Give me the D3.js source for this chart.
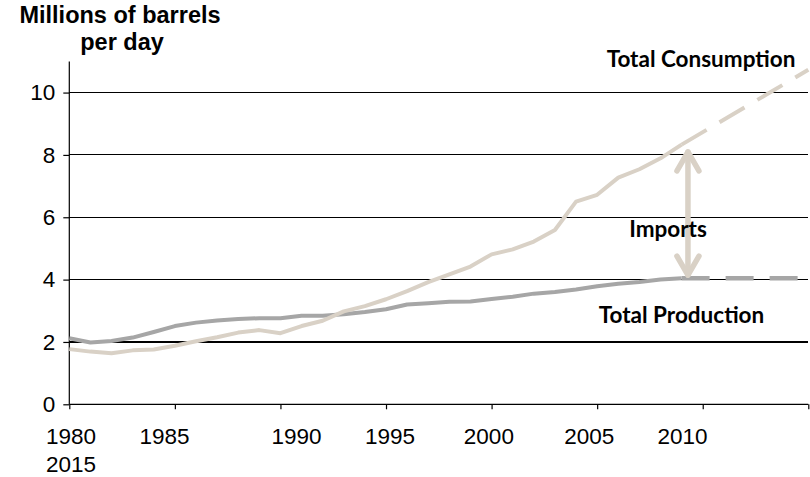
<!DOCTYPE html>
<html>
<head>
<meta charset="utf-8">
<script src="https://cdn.jsdelivr.net/npm/d3@7"></script>
<style>
  html, body { margin: 0; padding: 0; background: #fff; }
  svg { display: block; }
</style>
</head>
<body>
<svg id="chart" width="810" height="477"></svg>
<script>
// Historical series, one value per year (millions of barrels per day)
const years = [1980, 1981, 1982, 1983, 1984, 1985, 1986, 1987, 1988, 1989,
               1990, 1991, 1992, 1993, 1994, 1995, 1996, 1997, 1998, 1999,
               2000, 2001, 2002, 2003, 2004, 2005, 2006, 2007, 2008, 2009];
const consumption = [1.77, 1.69, 1.64, 1.73, 1.76, 1.88, 2.02, 2.15, 2.30, 2.38,
                     2.28, 2.51, 2.68, 2.98, 3.15, 3.37, 3.63, 3.92, 4.17, 4.42,
                     4.81, 4.97, 5.22, 5.59, 6.50, 6.72, 7.27, 7.54, 7.89, 8.33];
const production  = [2.12, 1.98, 2.03, 2.14, 2.32, 2.51, 2.62, 2.69, 2.74, 2.76,
                     2.76, 2.84, 2.84, 2.89, 2.96, 3.05, 3.20, 3.24, 3.29, 3.30,
                     3.38, 3.45, 3.55, 3.60, 3.68, 3.79, 3.87, 3.92, 4.00, 4.04];

// Projected segments (dashed)
const projectionYears = [2009, 2015];
const consumptionProjection = [8.33, 10.73];
const productionProjection  = [4.04, 4.04];

// Import gap arrow: year and the two values it spans
const importsArrowYear = 2009.3;
const importsArrowRange = [4.08, 8.16];

// Axis ticks
const yTicks = [0, 2, 4, 6, 8, 10];
const xTicks = [1980, 1985, 1990, 1995, 2000, 2005, 2010, 2015];
const xTickLabels = ["1980", "1985", "1990", "1995", "2000", "2005", "2010", "2015"];

// ---- layout ----
const svg = d3.select("#chart");
const x = d3.scaleLinear().domain([1980, 2015]).range([69.3, 808.3]);
const y = d3.scaleLinear().domain([0, 11]).range([404.3, 61.4]);

const consColor = "#d9d1c6";
const prodColor = "#a6a6a6";
const axisFont = "'Liberation Sans', Arial, sans-serif";
const noteFont = "Lato, 'Open Sans', sans-serif";

// Horizontal gridlines
svg.append("g")
  .selectAll("line")
  .data(yTicks.filter(d => d > 0))
  .join("line")
  .attr("x1", x(1980)).attr("x2", x(2015))
  .attr("y1", d => y(d)).attr("y2", d => y(d))
  .attr("stroke", "#000").attr("stroke-width", 1.1)
  .attr("shape-rendering", "crispEdges");

// Y axis
const yAxis = svg.append("g")
  .attr("transform", `translate(${x(1980)},0)`)
  .call(d3.axisLeft(y).tickValues(yTicks).tickSize(6).tickPadding(8).tickFormat(d3.format("d")));
yAxis.select(".domain").attr("d", `M0,${y(11)}V${y(0)}`).attr("stroke", "#000").attr("stroke-width", 1.2);
yAxis.selectAll(".tick line").attr("stroke", "#000").attr("stroke-width", 1.2);
yAxis.selectAll(".tick text")
  .attr("font-family", axisFont).attr("font-size", 22.5).attr("fill", "#000");

// X axis
const xAxis = svg.append("g")
  .attr("transform", `translate(0,${y(0)})`)
  .call(d3.axisBottom(x).tickValues(xTicks).tickSize(5).tickFormat(""));
xAxis.select(".domain").attr("d", `M${x(1980)},0H${x(2015)}`).attr("stroke", "#000").attr("stroke-width", 1.2);
xAxis.selectAll(".tick line").attr("stroke", "#000").attr("stroke-width", 1.2);

// Year labels set as a wrapped text row: the last one wraps under the first
const labelShift = [1.7, -10.3, 16, 4, -2.7, -8, -20.3];
const labelRow = svg.append("g")
  .attr("font-family", axisFont).attr("font-size", 22.5).attr("fill", "#000")
  .attr("text-anchor", "middle");
labelRow.selectAll("text")
  .data(xTickLabels.slice(0, -1))
  .join("text")
  .attr("x", (d, i) => x(xTicks[i]) + labelShift[i])
  .attr("y", 444)
  .text(d => d);
labelRow.append("text")
  .attr("x", x(xTicks[0]) + labelShift[0])
  .attr("y", 472)
  .text(xTickLabels[xTickLabels.length - 1]);

// Lines
const line = d3.line().x(d => x(d[0])).y(d => y(d[1]));

svg.append("path")
  .datum(years.map((yr, i) => [yr, production[i]]))
  .attr("d", line)
  .attr("fill", "none").attr("stroke", prodColor).attr("stroke-width", 4)
  .attr("stroke-linejoin", "round");

svg.append("path")
  .datum(projectionYears.map((yr, i) => [yr, productionProjection[i]]))
  .attr("d", line)
  .attr("fill", "none").attr("stroke", prodColor).attr("stroke-width", 4.5)
  .attr("stroke-dasharray", "28,16");

svg.append("path")
  .datum(years.map((yr, i) => [yr, consumption[i]]))
  .attr("d", line)
  .attr("fill", "none").attr("stroke", consColor).attr("stroke-width", 4)
  .attr("stroke-linejoin", "round");

svg.append("path")
  .datum(projectionYears.map((yr, i) => [yr, consumptionProjection[i]]))
  .attr("d", line)
  .attr("fill", "none").attr("stroke", consColor).attr("stroke-width", 4)
  .attr("stroke-dasharray", "29,15");

// Double-headed imports arrow
const ax = x(importsArrowYear);
const aLo = y(importsArrowRange[0]);
const aHi = y(importsArrowRange[1]);
const arrow = svg.append("g")
  .attr("fill", "none").attr("stroke", consColor).attr("stroke-width", 5.5)
  .attr("stroke-linecap", "round").attr("stroke-linejoin", "round");
arrow.append("line").attr("x1", ax).attr("x2", ax).attr("y1", aHi + 2).attr("y2", aLo - 2);
arrow.append("path").attr("d", `M${ax - 11},${aHi + 21}L${ax},${aHi + 2}L${ax + 11},${aHi + 21}`);
arrow.append("path").attr("d", `M${ax - 11},${aLo - 21}L${ax},${aLo - 2}L${ax + 11},${aLo - 21}`);

// Axis title
const title = svg.append("text")
  .attr("font-family", axisFont).attr("font-size", 23.5).attr("font-weight", "bold")
  .attr("text-anchor", "middle").attr("fill", "#000");
title.append("tspan").attr("x", 120).attr("y", 23).text("Millions of barrels");
title.append("tspan").attr("x", 122).attr("y", 50).text("per day");

// Series notes
const notes = svg.append("g")
  .attr("font-family", noteFont).attr("font-weight", 700).attr("font-size", 22.5)
  .attr("text-anchor", "middle").attr("fill", "#000");
notes.append("text").attr("x", 701).attr("y", 67).text("Total Consumption");
notes.append("text").attr("x", 668).attr("y", 237).text("Imports");
notes.append("text").attr("x", 681.5).attr("y", 323).text("Total Production");
</script>
</body>
</html>
